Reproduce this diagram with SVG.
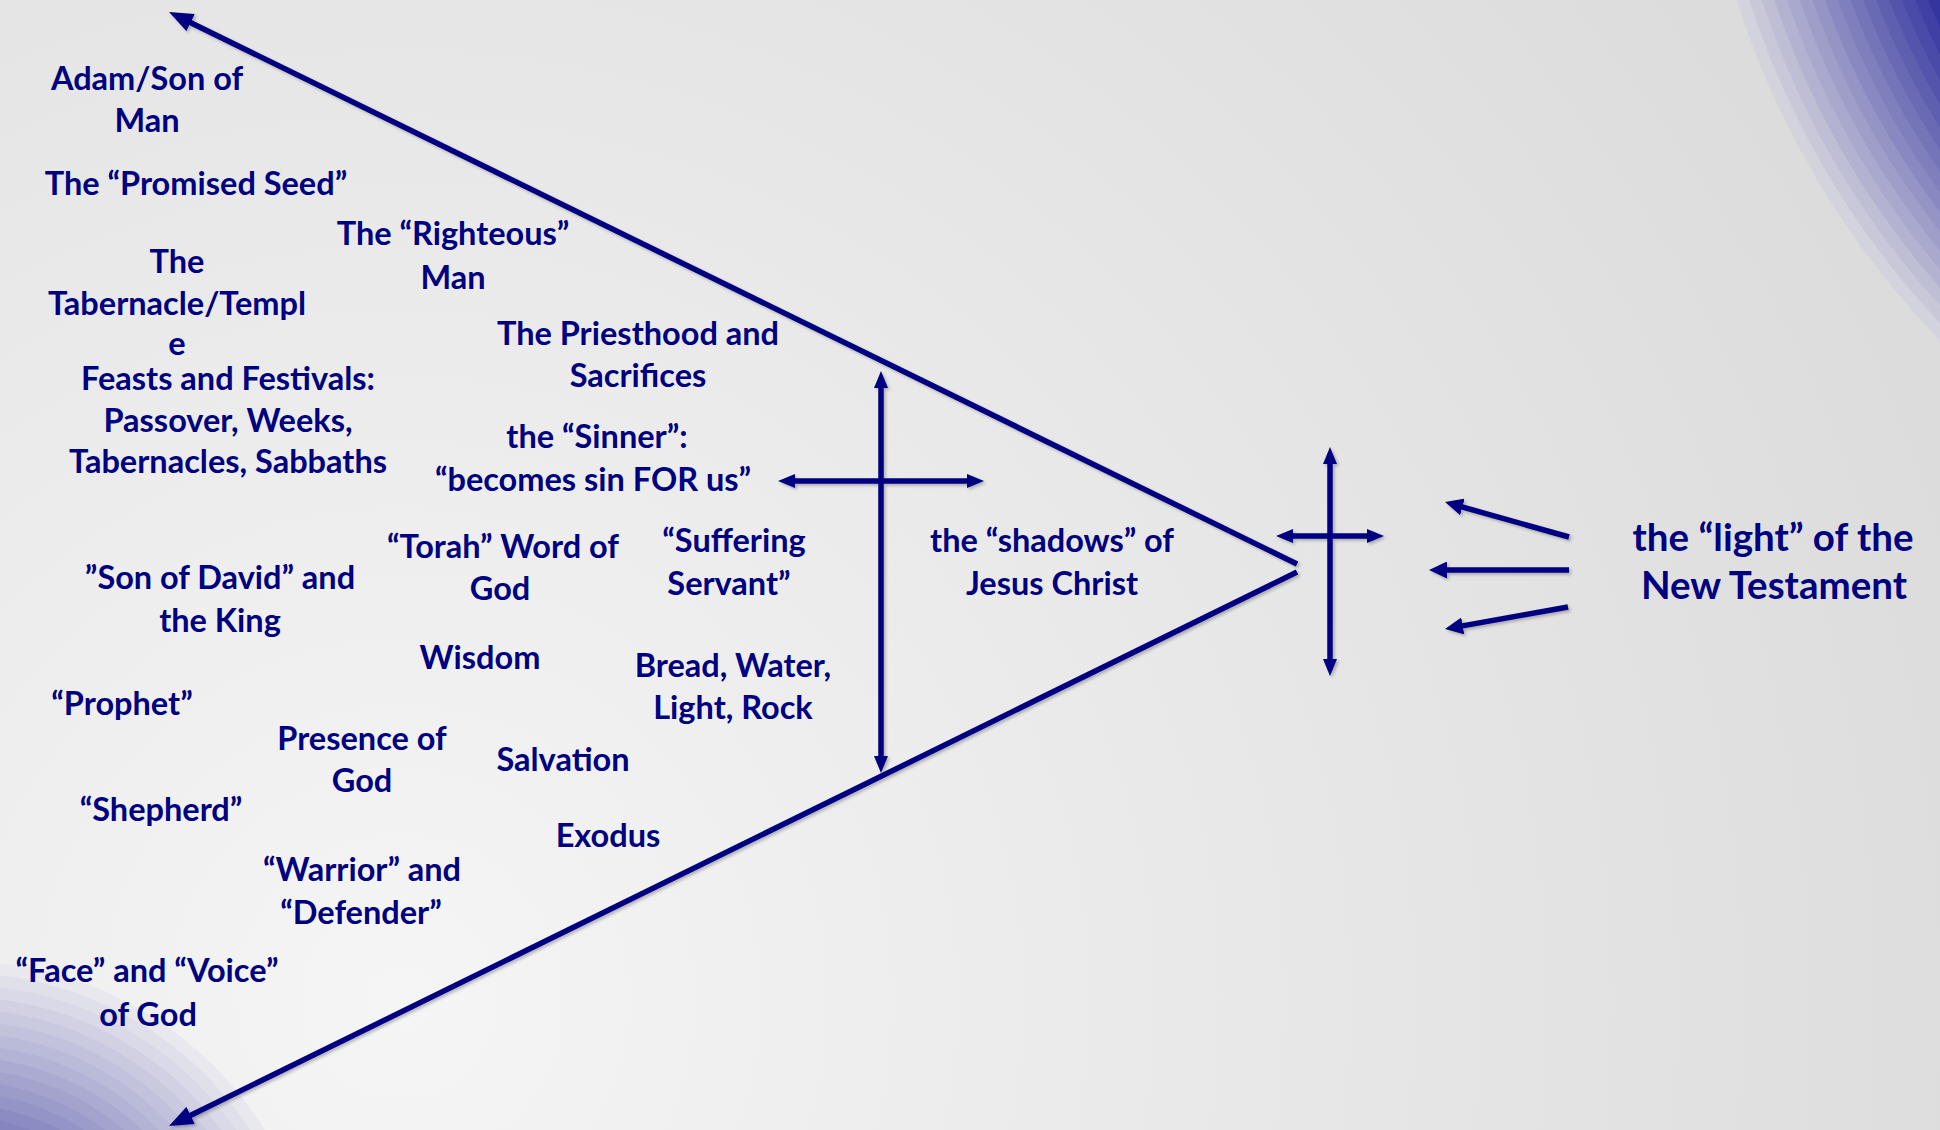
<svg xmlns="http://www.w3.org/2000/svg" width="1940" height="1130" viewBox="0 0 1940 1130">
<defs>
<radialGradient id="bg" gradientUnits="userSpaceOnUse" cx="400" cy="1000" r="1900">
<stop offset="0" stop-color="#f5f5f5"/>
<stop offset="1" stop-color="#d8d8d8"/>
</radialGradient>
<filter id="sh" x="-5%" y="-5%" width="110%" height="110%">
<feDropShadow dx="2" dy="2" stdDeviation="1.5" flood-color="#000" flood-opacity="0.25"/>
</filter>
<marker id="bigHead" markerUnits="userSpaceOnUse" markerWidth="24" markerHeight="19" viewBox="0 0 24 19" refX="10" refY="9.5" orient="auto-start-reverse">
<path d="M0,0 L24,9.5 L0,19 Z" fill="#000080"/>
</marker>
<marker id="smallHead" markerUnits="userSpaceOnUse" markerWidth="17" markerHeight="14" viewBox="0 0 17 14" refX="6" refY="7" orient="auto-start-reverse">
<path d="M0,0 L17,7 L0,14 Z" fill="#000080"/>
</marker>
<marker id="midHead" markerUnits="userSpaceOnUse" markerWidth="18" markerHeight="17" viewBox="0 0 18 17" refX="6" refY="8.5" orient="auto-start-reverse">
<path d="M0,0 L18,8.5 L0,17 Z" fill="#000080"/>
</marker>
</defs>
<style>
.t{font-family:"Lato","Liberation Sans",sans-serif;font-weight:700;font-size:32.5px;fill:#000080;text-anchor:middle}
.big{font-size:38.5px}
.ln{stroke:#000080;stroke-width:5.5;fill:none}
</style>
<rect width="1940" height="1130" fill="url(#bg)"/>
<g id="corner-top-right">
<circle cx="2562" cy="-262" r="866" fill="rgb(211,211,221)"/>
<circle cx="2562" cy="-262" r="854" fill="rgb(200,200,217)"/>
<circle cx="2562" cy="-262" r="842" fill="rgb(190,190,213)"/>
<circle cx="2562" cy="-262" r="830" fill="rgb(179,179,209)"/>
<circle cx="2562" cy="-262" r="818" fill="rgb(169,169,205)"/>
<circle cx="2562" cy="-262" r="806" fill="rgb(158,158,201)"/>
<circle cx="2562" cy="-262" r="794" fill="rgb(148,148,197)"/>
<circle cx="2562" cy="-262" r="782" fill="rgb(137,137,193)"/>
<circle cx="2562" cy="-262" r="770" fill="rgb(127,127,189)"/>
<circle cx="2562" cy="-262" r="758" fill="rgb(116,116,184)"/>
<circle cx="2562" cy="-262" r="746" fill="rgb(105,105,180)"/>
<circle cx="2562" cy="-262" r="734" fill="rgb(95,95,176)"/>
<circle cx="2562" cy="-262" r="722" fill="rgb(84,84,172)"/>
<circle cx="2562" cy="-262" r="710" fill="rgb(74,74,168)"/>
<circle cx="2562" cy="-262" r="698" fill="rgb(63,63,164)"/>
<circle cx="2562" cy="-262" r="686" fill="rgb(53,53,160)"/>
<circle cx="2562" cy="-262" r="674" fill="rgb(42,42,156)"/>
</g>
<g id="corner-bottom-left">
<circle cx="-40" cy="1320" r="359" fill="rgb(232,232,238)"/>
<circle cx="-40" cy="1320" r="347" fill="rgb(224,224,234)"/>
<circle cx="-40" cy="1320" r="335" fill="rgb(217,217,231)"/>
<circle cx="-40" cy="1320" r="323" fill="rgb(209,209,227)"/>
<circle cx="-40" cy="1320" r="311" fill="rgb(201,201,224)"/>
<circle cx="-40" cy="1320" r="299" fill="rgb(194,194,220)"/>
<circle cx="-40" cy="1320" r="287" fill="rgb(186,186,217)"/>
<circle cx="-40" cy="1320" r="275" fill="rgb(179,179,213)"/>
<circle cx="-40" cy="1320" r="263" fill="rgb(171,171,209)"/>
<circle cx="-40" cy="1320" r="251" fill="rgb(163,163,206)"/>
<circle cx="-40" cy="1320" r="239" fill="rgb(156,156,202)"/>
<circle cx="-40" cy="1320" r="227" fill="rgb(148,148,199)"/>
<circle cx="-40" cy="1320" r="215" fill="rgb(140,140,195)"/>
<circle cx="-40" cy="1320" r="203" fill="rgb(133,133,192)"/>
<circle cx="-40" cy="1320" r="191" fill="rgb(125,125,188)"/>
</g>
<g id="connectors" filter="url(#sh)">
<line class="ln" x1="1297" y1="564" x2="181.6" y2="18.2" marker-end="url(#bigHead)"/>
<line class="ln" x1="1297" y1="572" x2="181.6" y2="1119.8" marker-end="url(#bigHead)"/>
<line class="ln" x1="881" y1="382" x2="881" y2="762" marker-start="url(#smallHead)" marker-end="url(#smallHead)"/>
<line class="ln" x1="789" y1="481" x2="973" y2="481" marker-start="url(#smallHead)" marker-end="url(#smallHead)"/>
<line class="ln" x1="1330" y1="458" x2="1330" y2="665" marker-start="url(#smallHead)" marker-end="url(#smallHead)"/>
<line class="ln" x1="1287" y1="536" x2="1373" y2="536" marker-start="url(#smallHead)" marker-end="url(#smallHead)"/>
<line class="ln" x1="1569" y1="537" x2="1456.6" y2="505.3" marker-end="url(#midHead)"/>
<line class="ln" x1="1569" y1="570" x2="1441" y2="570" marker-end="url(#midHead)"/>
<line class="ln" x1="1568" y1="607" x2="1456.8" y2="626.9" marker-end="url(#midHead)"/>
</g>
<g id="n-adam"><text class="t" x="147" y="90">Adam/Son of</text><text class="t" x="147" y="132">Man</text></g>
<g id="n-seed"><text class="t" x="196" y="195">The “Promised Seed”</text></g>
<g id="n-righteous"><text class="t" x="453" y="245">The “Righteous”</text><text class="t" x="453" y="289">Man</text></g>
<g id="n-tabernacle"><text class="t" x="177" y="273">The</text><text class="t" x="177" y="315">Tabernacle/Templ</text><text class="t" x="177" y="355">e</text></g>
<g id="n-feasts"><text class="t" x="228" y="390">Feasts and Festivals:</text><text class="t" x="228" y="432">Passover, Weeks,</text><text class="t" x="228" y="473">Tabernacles, Sabbaths</text></g>
<g id="n-priesthood"><text class="t" x="638" y="345">The Priesthood and</text><text class="t" x="638" y="387">Sacrifices</text></g>
<g id="n-sinner"><text class="t" x="597" y="448">the “Sinner”:</text><text class="t" x="593" y="491">“becomes sin FOR us”</text></g>
<g id="n-torah"><text class="t" x="503" y="558">“Torah” Word of</text><text class="t" x="500" y="600">God</text></g>
<g id="n-suffering"><text class="t" x="734" y="552">“Suffering</text><text class="t" x="729" y="595">Servant”</text></g>
<g id="n-shadows"><text class="t" x="1052" y="552">the “shadows” of</text><text class="t" x="1052" y="595">Jesus Christ</text></g>
<g id="n-david"><text class="t" x="220" y="589">”Son of David” and</text><text class="t" x="220" y="632">the King</text></g>
<g id="n-wisdom"><text class="t" x="480" y="669">Wisdom</text></g>
<g id="n-bread"><text class="t" x="733" y="677">Bread, Water,</text><text class="t" x="733" y="719">Light, Rock</text></g>
<g id="n-prophet"><text class="t" x="122" y="715">“Prophet”</text></g>
<g id="n-presence"><text class="t" x="362" y="750">Presence of</text><text class="t" x="362" y="792">God</text></g>
<g id="n-salvation"><text class="t" x="563" y="771">Salvation</text></g>
<g id="n-shepherd"><text class="t" x="161" y="821">“Shepherd”</text></g>
<g id="n-exodus"><text class="t" x="608" y="847">Exodus</text></g>
<g id="n-warrior"><text class="t" x="362" y="881">“Warrior” and</text><text class="t" x="361" y="924">“Defender”</text></g>
<g id="n-face"><text class="t" x="147" y="982">“Face” and “Voice”</text><text class="t" x="148" y="1026">of God</text></g>
<g id="n-light"><text class="t big" x="1773" y="551">the “light” of the</text><text class="t big" x="1774" y="599">New Testament</text></g>
</svg>
